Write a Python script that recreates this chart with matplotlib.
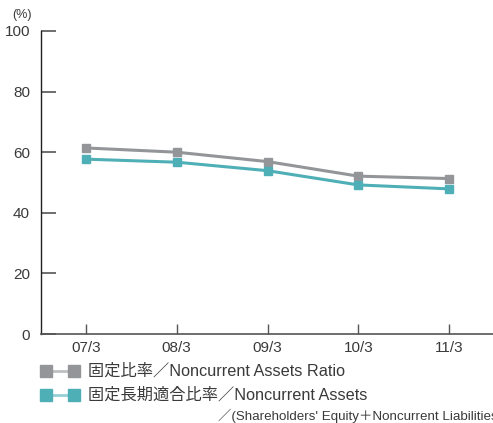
import matplotlib
matplotlib.use("Agg")
import matplotlib.pyplot as plt
from matplotlib.lines import Line2D

plt.rcParams['font.family'] = ['Liberation Sans', 'Noto Sans CJK JP', 'DejaVu Sans']

categories = ["07/3", "08/3", "09/3", "10/3", "11/3"]
fixed_ratio = [61.4, 60.0, 56.9, 52.1, 51.3]
fixed_long_term_ratio = [57.7, 56.7, 53.9, 49.2, 47.9]
yticks = [0, 20, 40, 60, 80, 100]
label1 = "固定比率／Noncurrent Assets Ratio"
label2 = "固定長期適合比率／Noncurrent Assets"
label3 = "／(Shareholders' Equity＋Noncurrent Liabilities)"

GRAY = "#939598"
TEAL = "#4FAFB7"
TXT = "#3a3a3a"

W, H = 493, 423
fig = plt.figure(figsize=(W/100, H/100), dpi=100)
ax = fig.add_axes([41/W, 1-334/H, 1-41/W, (334-31)/H])

x = list(range(len(categories)))
ax.plot(x, fixed_ratio, color=GRAY, lw=2.2, marker='s', ms=6.3, mec=GRAY, mfc=GRAY, zorder=3)
ax.plot(x, fixed_long_term_ratio, color=TEAL, lw=2.2, marker='s', ms=6.3, mec=TEAL, mfc=TEAL, zorder=3)

ax.set_xlim(-45/90.75, (493-86)/90.75)
ax.set_ylim(0, 100)
ax.set_yticks(yticks)
ax.set_xticks(x)
ax.set_xticklabels(categories)
for s in ['top', 'right']:
    ax.spines[s].set_visible(False)
ax.spines['left'].set_color('#222222')
ax.spines['bottom'].set_color('#555555')
ax.spines['left'].set_linewidth(1.0)
ax.spines['bottom'].set_linewidth(1.2)
ax.tick_params(axis='y', direction='in', length=11, width=1.2, color='#555555',
               labelsize=11, labelcolor=TXT, pad=8)
ax.tick_params(axis='x', direction='in', length=7, width=1.0, color='#555555',
               labelsize=11, labelcolor=TXT, pad=5)

fig.text(12/W, 1-15/H, "(%)", fontsize=9, color=TXT, va='center', ha='left')

# legend
def legend_row(y, color, text):
    yy = 1 - y/H
    fig.add_artist(Line2D([52/W, 68/W], [yy, yy], color=color, lw=2, alpha=0.6, transform=fig.transFigure))
    fig.add_artist(Line2D([46/W, 74/W], [yy, yy], lw=0, marker='s', ms=9, color=color, transform=fig.transFigure))
    fig.text(88/W, yy, text, fontsize=11.7, color=TXT, va='center', ha='left')

legend_row(371, GRAY, label1)
legend_row(395, TEAL, label2)
fig.text(218/W, 1-416/H, label3, fontsize=9.6, color=TXT, va='center', ha='left')

fig.savefig("out.png", dpi=100)
